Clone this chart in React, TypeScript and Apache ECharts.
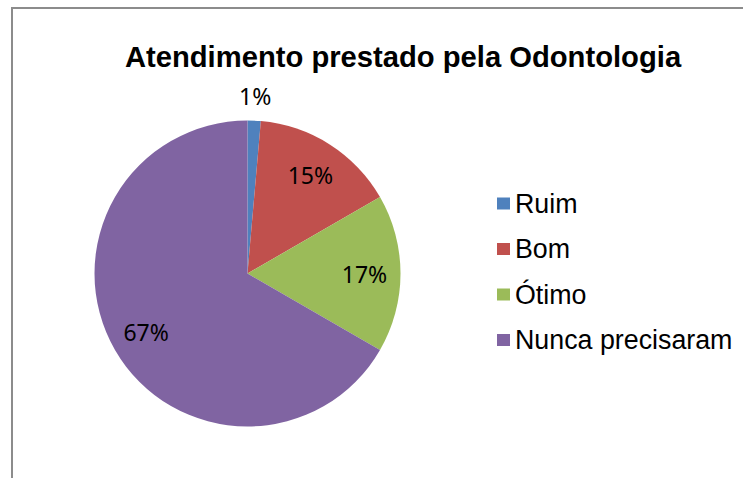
import React, { useEffect, useRef } from "react";
import * as echarts from "echarts";

const titleText = "Atendimento prestado pela Odontologia";
const categories = ["Ruim", "Bom", "Ótimo", "Nunca precisaram"];
const counts = [1, 11, 12, 48];
const colors = ["#4F81BD", "#C0504D", "#9BBB59", "#8064A2"];

export default function App() {
  const ref = useRef<HTMLDivElement>(null);
  useEffect(() => {
    if (!ref.current) return;
    const chart = echarts.init(ref.current, null, { renderer: "svg" });
    const center = [247.5, 273.5];
    const mainData = categories.map((name, i) => ({
      name,
      value: counts[i],
      itemStyle: { color: colors[i] },
    }));
    const clear = { color: "rgba(0,0,0,0)", borderWidth: 0 };
    const labelStyle = {
      color: "#000",
      fontFamily: "Noto Sans",
      fontSize: 23,
    };
    chart.setOption({
      animation: false,
      backgroundColor: "#fff",
      title: {
        text: titleText,
        left: 398,
        top: 37,
        textAlign: "center",
        textStyle: {
          fontFamily: "Liberation Sans",
          fontWeight: "bold",
          fontSize: 29.2,
          color: "#000",
        },
      },
      legend: {
        orient: "vertical",
        left: 497,
        top: 190,
        padding: 0,
        itemGap: 18.5,
        itemWidth: 13,
        itemHeight: 12,
        icon: "rect",
        selectedMode: false,
        data: categories.map((name, i) => ({ name, itemStyle: { color: colors[i] } })),
        textStyle: { fontFamily: "Liberation Sans", fontSize: 26.8, color: "#000" },
      },
      graphic: [
        {
          type: "rect",
          shape: { x: 12, y: 8, width: 900, height: 700 },
          style: { fill: "none", stroke: "#8c8c8c", lineWidth: 2 },
          silent: true,
        },
      ],
      series: [
        {
          type: "pie",
          center,
          radius: 153,
          startAngle: 90,
          clockwise: true,
          silent: true,
          label: { show: false },
          labelLine: { show: false },
          itemStyle: { borderWidth: 0 },
          emphasis: { disabled: true },
          data: mainData,
        },
        {
          type: "pie",
          center,
          radius: 228,
          startAngle: 90,
          clockwise: true,
          silent: true,
          percentPrecision: 0,
          itemStyle: clear,
          emphasis: { disabled: true },
          labelLine: { show: false },
          label: { show: true, position: "inside", formatter: "{d}%", ...labelStyle },
          data: categories.map((name, i) => ({
            name,
            value: counts[i],
            label: { show: i !== 0 },
          })),
        },
        {
          type: "pie",
          center,
          radius: 350,
          startAngle: 90,
          clockwise: true,
          silent: true,
          percentPrecision: 0,
          itemStyle: clear,
          emphasis: { disabled: true },
          labelLine: { show: false },
          label: { show: true, position: "inside", formatter: "{d}%", ...labelStyle },
          data: categories.map((name, i) => ({
            name,
            value: counts[i],
            label: { show: i === 0 },
          })),
        },
      ],
    });
    return () => chart.dispose();
  }, []);
  return (
    <div
      ref={ref}
      style={{ position: "absolute", left: 0, top: 0, width: 743, height: 478, background: "#fff" }}
    />
  );
}
